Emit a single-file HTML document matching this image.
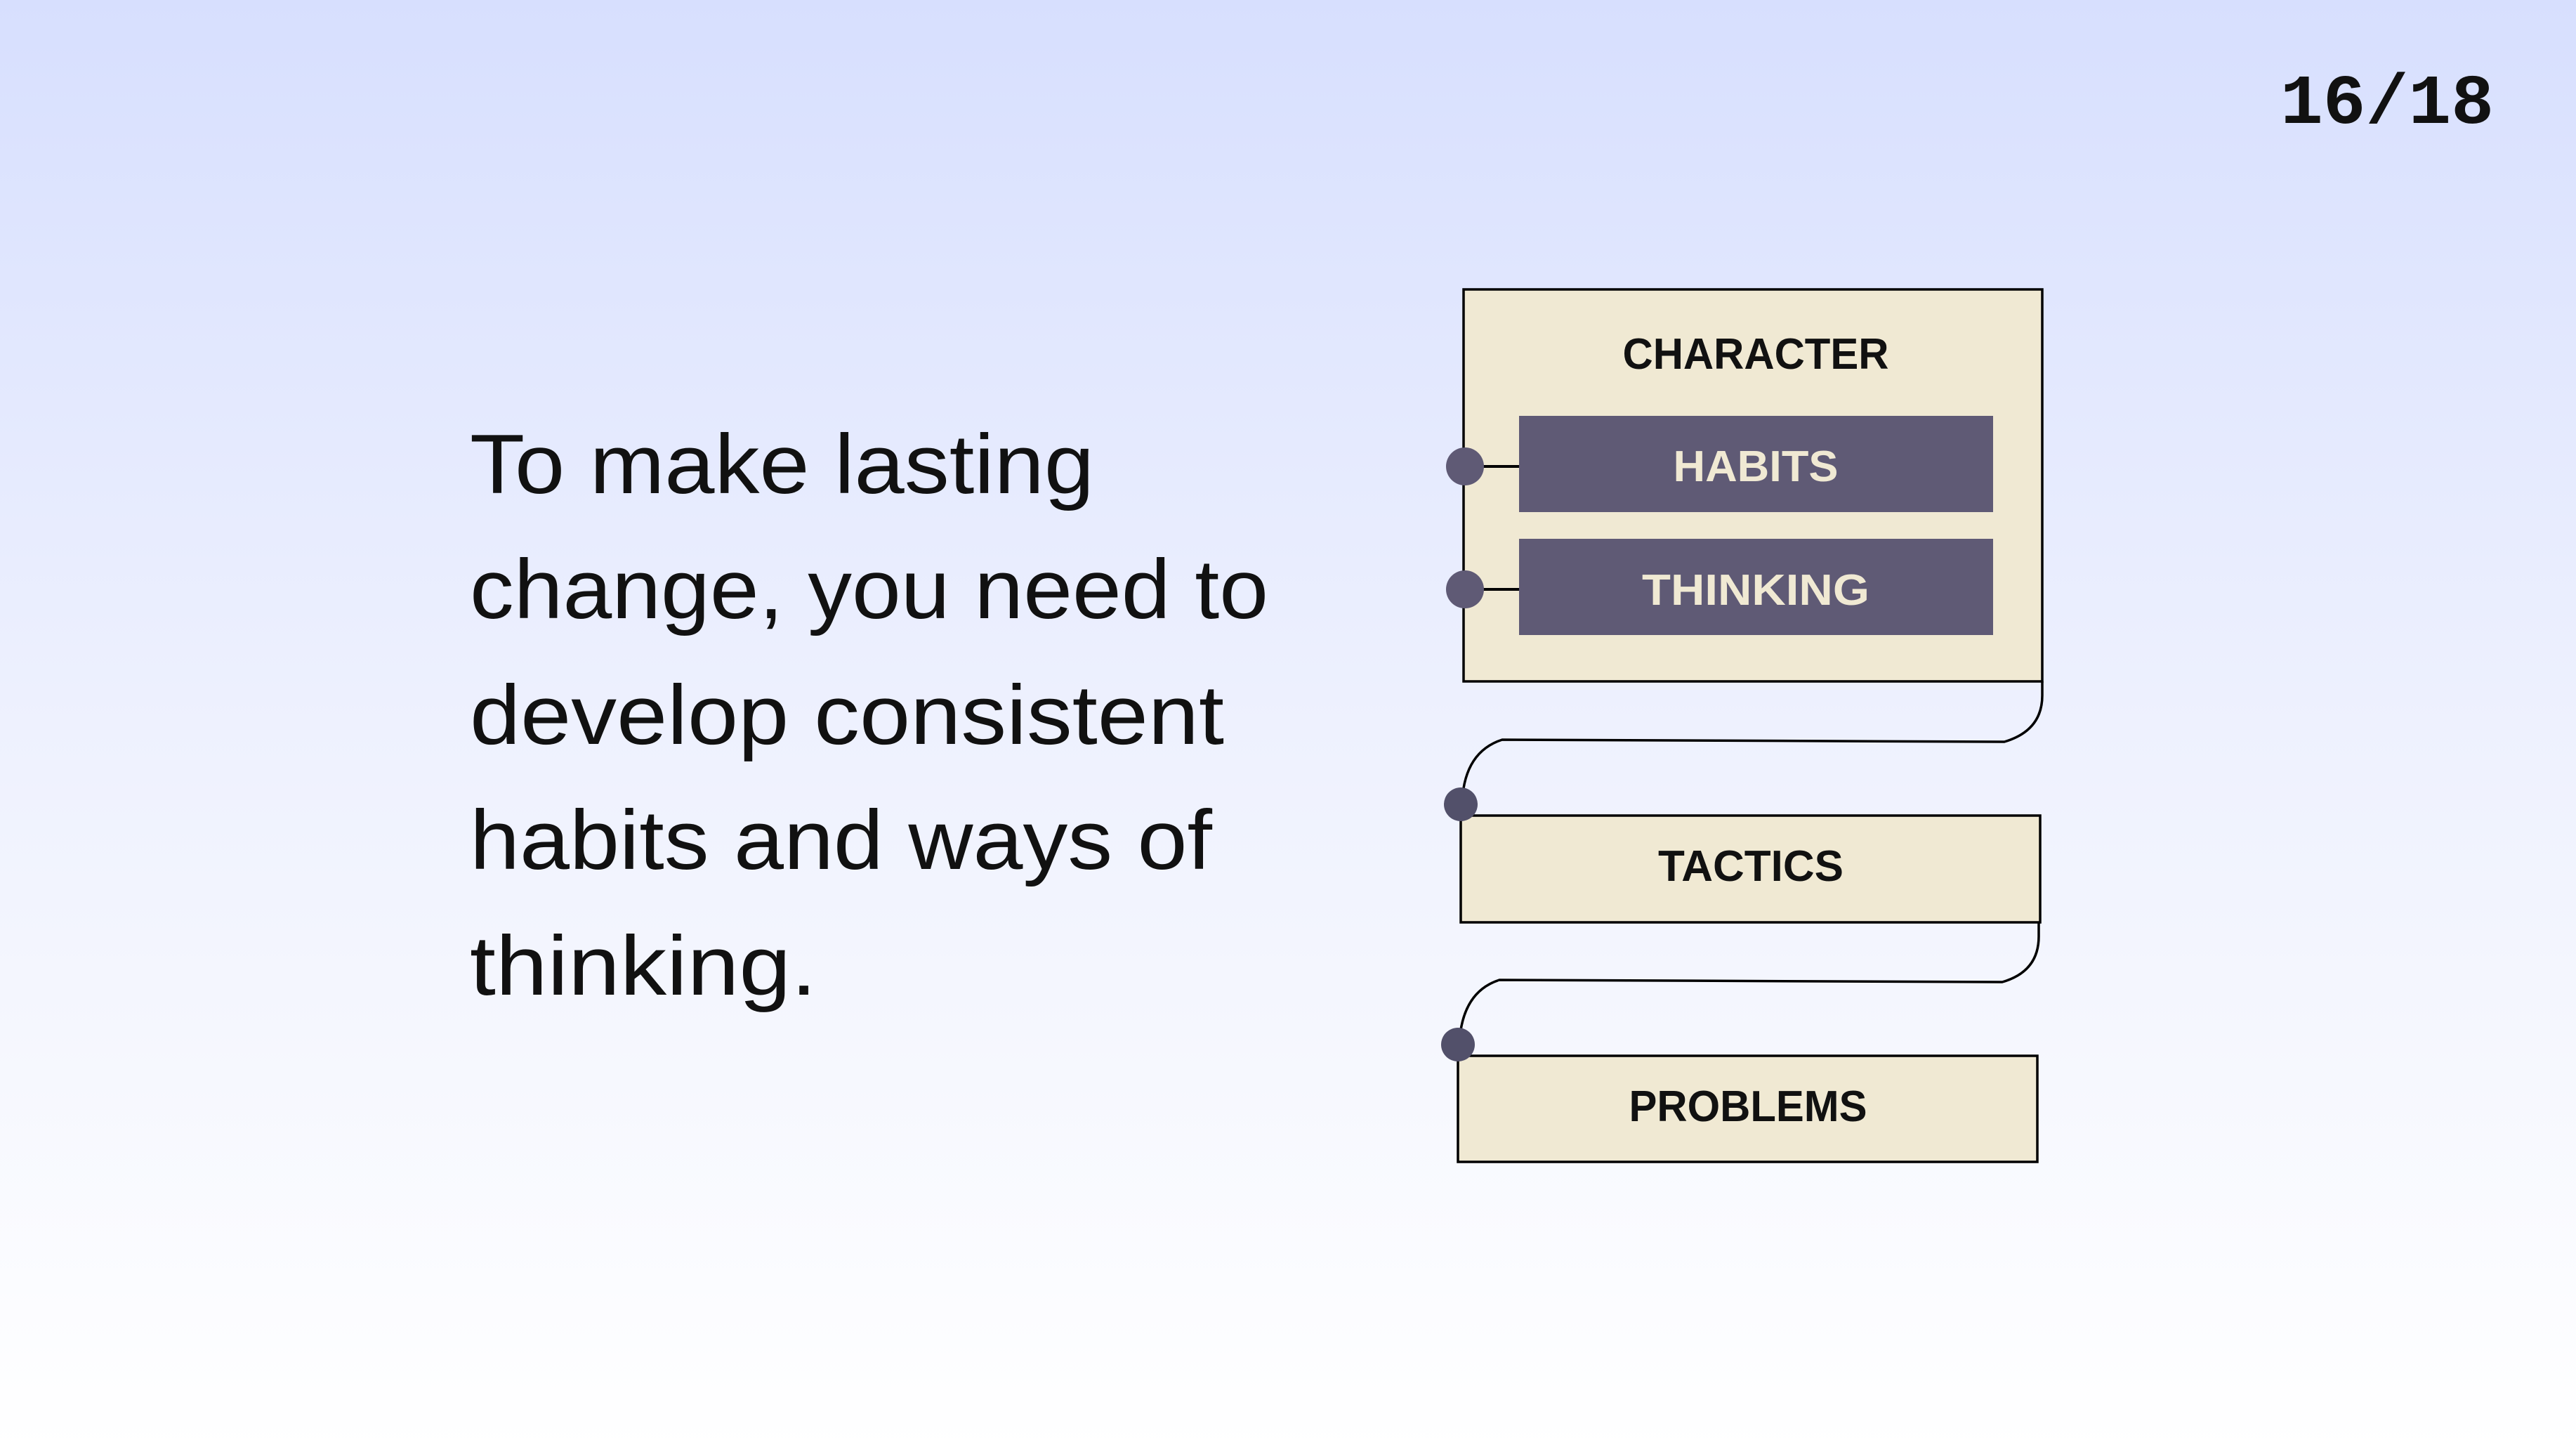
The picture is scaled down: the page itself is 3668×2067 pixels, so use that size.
<!DOCTYPE html>
<html><head><meta charset="utf-8"><style>
html,body{margin:0;padding:0}
body{width:3668px;height:2067px;overflow:hidden;background:linear-gradient(180deg,#d7dffe 0%,#eef1fe 50%,#ffffff 100%)}
svg{position:absolute;left:0;top:0}
</style></head><body>
<svg width="3668" height="2067" viewBox="0 0 3668 2067" xmlns="http://www.w3.org/2000/svg">
<g font-family="Liberation Mono, monospace" font-weight="bold" font-size="100" fill="#111">
<text x="3551" y="175" text-anchor="end" textLength="304" lengthAdjust="spacingAndGlyphs">16/18</text>
</g>
<g font-family="Liberation Sans, sans-serif" font-size="120" fill="#111">
<text x="669" y="702" textLength="889" lengthAdjust="spacingAndGlyphs">To make lasting</text>
<text x="669" y="880" textLength="1137" lengthAdjust="spacingAndGlyphs">change, you need to</text>
<text x="669" y="1059" textLength="1074" lengthAdjust="spacingAndGlyphs">develop consistent</text>
<text x="669" y="1237" textLength="1057" lengthAdjust="spacingAndGlyphs">habits and ways of</text>
<text x="669" y="1416" textLength="494" lengthAdjust="spacingAndGlyphs">thinking.</text>
</g>
<g stroke="#000" stroke-width="3.5" fill="none">
<path d="M2908 970 L2908 990 Q2908 1040 2854 1056 L2139 1053 Q2086 1070 2082 1140"/>
<path d="M2903 1313 L2903 1333 Q2903 1383 2851 1398 L2135 1395 Q2082 1412 2078 1485"/>
</g>
<rect x="2084" y="412" width="824" height="558" fill="#f0e9d3" stroke="#000" stroke-width="3.5"/>
<rect x="2163" y="592" width="675" height="137" fill="#5f5a75"/>
<rect x="2163" y="767" width="675" height="137" fill="#5f5a75"/>
<line x1="2086" y1="664" x2="2163" y2="664" stroke="#000" stroke-width="4"/>
<line x1="2086" y1="839" x2="2163" y2="839" stroke="#000" stroke-width="4"/>
<circle cx="2086" cy="664" r="27" fill="#5f5a75"/>
<circle cx="2086" cy="839" r="27" fill="#5f5a75"/>
<rect x="2080" y="1161" width="825" height="152" fill="#f0e9d3" stroke="#000" stroke-width="3.5"/>
<rect x="2076" y="1503" width="825" height="151" fill="#f0e9d3" stroke="#000" stroke-width="3.5"/>
<circle cx="2080" cy="1145" r="24" fill="#52506a"/>
<circle cx="2076" cy="1487" r="24" fill="#52506a"/>
<g font-family="Liberation Sans, sans-serif" font-weight="bold" font-size="62" text-anchor="middle">
<text x="2500" y="525" fill="#111" textLength="379" lengthAdjust="spacingAndGlyphs">CHARACTER</text>
<text x="2500" y="685" fill="#f0e9d3" textLength="235" lengthAdjust="spacingAndGlyphs">HABITS</text>
<text x="2500" y="861" fill="#f0e9d3" textLength="324" lengthAdjust="spacingAndGlyphs">THINKING</text>
<text x="2493" y="1254" fill="#111" textLength="264" lengthAdjust="spacingAndGlyphs">TACTICS</text>
<text x="2489" y="1596" fill="#111" textLength="339" lengthAdjust="spacingAndGlyphs">PROBLEMS</text>
</g>
</svg>
</body></html>
